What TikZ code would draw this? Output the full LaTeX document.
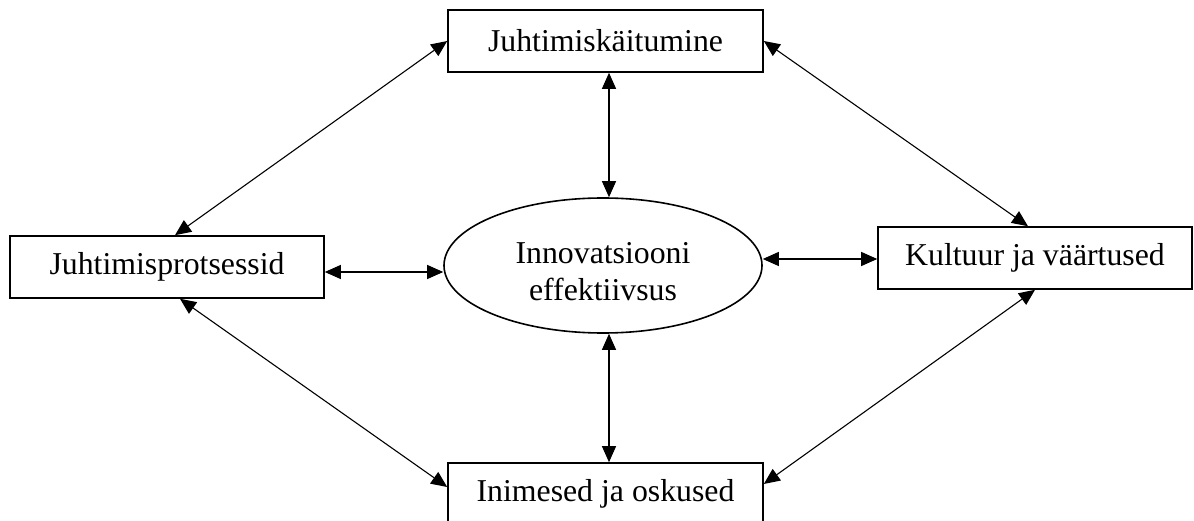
\documentclass[tikz,border=0pt]{standalone}
\usepackage{fontspec}
\setmainfont{Liberation Serif}
\usetikzlibrary{arrows.meta,calc,shapes.geometric}

\tikzset{
  factor/.style={draw, line width=1.6pt, rectangle, inner sep=0pt,
    minimum width=315pt, minimum height=62pt, fill=white},
  core/.style={draw, line width=1.6pt, ellipse, inner sep=0pt,
    minimum width=318pt, minimum height=135pt, align=center},
  tip/.style={Triangle[length=16pt,width=14pt]},
  link/.style={line width=1.1pt, {Triangle[length=16pt,width=14pt]}-{Triangle[length=16pt,width=14pt]}},
}

\begin{document}
\begin{tikzpicture}[x=1pt, y=-1pt,
  every node/.append style={font=\fontsize{31.8}{37}\selectfont}]
  \useasboundingbox (0,0) rectangle (1194,521);
  \clip (0,0) rectangle (1194,521);

  % the four factors and the central outcome
  \node[factor] (T) at (605.5,41) {Juhtimiskäitumine};
  \node[factor, minimum width=314pt] (L) at (167,267) {Juhtimisprotsessid};
  \node[factor, minimum width=314pt] (R) at (1035,258) {Kultuur ja väärtused};
  \node[factor] (B) at (605.5,494) {Inimesed ja oskused};
  \node[core] (E) at (603,265.5) {\rule{0pt}{33pt}Innovatsiooni\\effektiivsus};

  % outer ring of two-way links
  \draw[link] ($(L.north)+(8,0)$) -- (T.west);
  \draw[link] (T.east) -- ($(R.north)+(-7,0)$);
  \draw[link] ($(L.south)+(13,0)$) -- ($(B.west)+(0,-7)$);
  \draw[link] (R.south) -- ($(B.east)+(0,-10)$);

  % links to the centre
  \draw[link] ($(T.south)+(3.5,0)$) -- ($(E.north)+(6,0)$);
  \draw[link] ($(E.south)+(6,0)$) -- ($(B.north)+(3.5,0)$);
  \draw[link] ($(L.east)+(0,5)$) -- ($(E.west)+(0,6.5)$);
  \draw[link] ($(E.east)+(0,-6.5)$) -- ($(R.west)+(0,1)$);
\end{tikzpicture}
\end{document}
